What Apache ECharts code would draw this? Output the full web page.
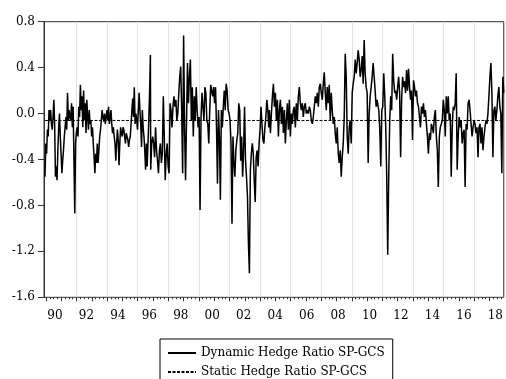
<!DOCTYPE html>
<html lang="en">
<head>
<meta charset="UTF-8">
<title>Hedge Ratio SP-GCS</title>
<script src="https://cdn.jsdelivr.net/npm/echarts@6/dist/echarts.min.js"></script>
<style>
html,body{margin:0;padding:0;background:#fff;}
#chart{width:506px;height:379px;}
</style>
</head>
<body>
<div id="chart"></div>
<script>
// dynamic hedge ratio in four stretches (start / end year of each)
var segFrom = [1988.935, 1995.85, 2003.612, 2010.766];
var segTo   = [1995.828, 2003.569, 2010.723, 2018.942];

var dyn1989 = [-0.55,-0.26,-0.35,-0.14,-0.20,0.03,-0.06,0.03,-0.09,-0.14,
	-0.03,0.12,-0.09,-0.55,-0.46,-0.58,-0.32,-0.12,0.00,-0.20,
	-0.35,-0.52,-0.41,-0.32,-0.20,-0.12,-0.03,-0.14,0.18,-0.06,
	0.03,-0.03,-0.06,0.09,-0.12,0.06,-0.41,-0.87,-0.26,-0.17,
	-0.12,-0.20,0.06,-0.03,0.25,0.03,0.15,-0.12,0.20,-0.06,
	0.09,-0.17,0.12,-0.03,-0.14,0.03,-0.09,-0.06,-0.20,-0.12,
	-0.26,-0.38,-0.52,-0.35,-0.43,-0.26,-0.43,-0.32,-0.20,-0.14,
	-0.06,0.03,-0.03,-0.07,0.00,-0.09,-0.03,0.03,-0.06,0.06,
	-0.09,-0.03,0.03,-0.09,-0.17,-0.12,-0.20,-0.26,-0.41,-0.26,
	-0.14,-0.23,-0.45,-0.26,-0.12,-0.17,-0.20,-0.12,-0.14,-0.20,
	-0.26,-0.17,-0.20,-0.23,-0.29,-0.23,-0.20,-0.09,0.03,0.13,
	-0.03,0.23,-0.09,0.00,-0.06,-0.14,0.03,0.18,0.03,-0.09,
	-0.29,0.03,-0.12,-0.20,-0.32,-0.49,-0.26,-0.46,-0.26,-0.06,
	0.18,0.51];
var dyn1996 = [-0.49,-0.26,-0.20,-0.26,-0.38,-0.12,-0.32,-0.41,-0.52,-0.32,
	-0.26,-0.43,-0.35,0.15,-0.20,-0.58,-0.35,-0.26,-0.46,-0.52,
	0.09,0.03,-0.12,0.06,0.15,0.06,0.12,-0.06,0.00,0.18,
	0.32,0.41,0.03,-0.52,0.68,-0.14,-0.58,-0.06,0.44,0.09,
	0.32,0.47,-0.06,0.23,-0.20,0.15,-0.06,0.23,0.03,-0.12,
	-0.03,-0.84,-0.03,0.18,0.06,-0.06,0.23,0.18,-0.06,-0.09,
	-0.26,0.03,0.25,0.20,0.15,0.23,0.09,0.23,-0.12,-0.61,
	0.03,-0.20,-0.75,0.03,-0.12,0.06,0.20,0.03,0.26,0.20,
	0.03,0.00,-0.06,-0.26,-0.96,-0.20,-0.43,-0.55,-0.32,-0.23,
	-0.17,0.09,0.03,-0.41,-0.20,-0.55,-0.32,0.06,-0.41,-0.55,
	-0.72,-1.13,-1.39,-0.49,-0.35,-0.26,-0.35,-0.58,-0.77,-0.38,
	-0.32,-0.46,-0.26,-0.14,0.06,-0.09,-0.23,-0.26,-0.12,-0.03,
	0.12,0.03,-0.12];
var dyn2003 = [0.03,-0.17,0.00,0.15,0.26,0.06,0.18,-0.06,0.12,-0.20,
	0.03,0.12,-0.09,0.06,-0.17,0.03,-0.26,-0.06,0.09,-0.14,
	0.12,-0.20,0.00,-0.09,0.03,0.06,-0.12,0.09,-0.06,0.15,
	0.23,0.09,0.03,0.09,-0.03,0.06,0.09,0.00,0.03,0.00,
	0.06,0.03,-0.06,-0.09,-0.03,0.06,0.15,0.09,0.18,0.06,
	0.23,0.26,0.18,0.12,0.26,0.36,0.18,0.03,0.23,0.09,
	0.25,-0.06,0.18,0.03,-0.09,-0.03,-0.17,-0.26,-0.12,-0.35,
	-0.43,-0.32,-0.55,-0.38,-0.26,-0.03,0.52,0.32,-0.20,-0.35,
	-0.12,-0.06,-0.26,0.18,0.26,0.32,0.47,0.35,0.44,0.55,
	0.47,0.32,0.38,0.50,0.26,0.64,0.35,0.23,0.18,-0.43,
	0.00,0.15,0.23,0.32,0.44,0.32,0.20,0.06,0.12,0.06];
var dyn2010 = [0.03,-0.14,-0.46,0.03,0.06,0.35,0.15,-0.12,-0.55,-1.23,
	-0.55,-0.06,0.15,0.03,0.52,0.29,0.18,0.20,0.12,0.23,
	0.32,0.18,-0.38,0.12,0.32,0.23,0.28,0.18,0.38,0.20,
	0.39,0.23,0.12,0.20,-0.23,0.29,0.23,0.15,0.20,0.09,
	0.06,-0.03,-0.12,0.06,0.00,0.09,-0.03,0.03,-0.09,-0.20,
	-0.35,-0.17,-0.23,-0.09,-0.12,-0.17,-0.03,0.03,-0.20,-0.32,
	-0.64,-0.20,-0.12,-0.09,-0.06,0.12,0.03,-0.20,0.15,0.00,
	0.15,-0.06,0.00,-0.55,-0.12,0.06,0.03,0.09,0.35,-0.49,
	-0.20,-0.03,-0.12,-0.06,-0.26,-0.17,-0.14,-0.64,-0.09,-0.14,
	0.09,0.12,0.03,-0.09,-0.20,-0.12,-0.06,-0.09,-0.17,-0.12,
	-0.38,-0.12,-0.09,-0.26,-0.12,-0.32,-0.20,-0.12,-0.06,-0.09,
	0.00,0.15,0.32,0.44,0.18,-0.38,0.03,0.06,-0.06,0.03,
	0.15,0.23,0.06,0.00,-0.52,0.32,0.18];
var segVals = [dyn1989, dyn1996, dyn2003, dyn2010];

var staticRatio = -0.06;
var yearLabels = [1990,1992,1994,1996,1998,2000,2002,2004,2006,2008,2010,2012,2014,2016,2018];
var gridYears = [1991,1993,1995,1997,1999,2001,2003,2005,2007,2009,2011,2013,2015,2017];

var xMin = 1988.87, xMax = 2018.94;     // data axis
var labMin = 1989.302, labMax = 2018.535; // year labels sit a little off the grid, as in the picture
var serif = 'DejaVu Serif';

// build [year, value] pairs from the stretches
function buildDynamic(){
	var out = [];
	for (var s = 0; s < segVals.length; s++){
		var v = segVals[s], a = segFrom[s], b = segTo[s];
		for (var i = 0; i < v.length; i++){
			out.push([a + (b - a) * i / (v.length - 1), v[i]]);
		}
	}
	return out;
}

var quarters = [], years = [];
for (var y = 1989; y <= 2018; y++){
	years.push(y);
	for (var q = 0; q < 4; q++) quarters.push(y + q / 4);
}

var myChart = echarts.init(document.getElementById('chart'));
var option = {
	backgroundColor: '#fff',
	animation: false,
	grid: {
		left: 44, right: 1, top: 21.7, bottom: 81.7,
		show: true, borderColor: '#333', borderWidth: 1
	},
	legend: {
		orient: 'vertical',
		left: 160, top: 339, height: 60,
		padding: [8, 8, 6, 7],
		itemWidth: 28, itemHeight: 12, itemGap: 7, itemTextGap: 5,
		borderColor: '#000', borderWidth: 1,
		itemStyle: {opacity: 0},
		textStyle: {fontFamily: serif, fontSize: 12, color: '#000'},
		data: ['Dynamic Hedge Ratio SP-GCS', 'Static Hedge Ratio SP-GCS']
	},
	xAxis: [
		{	// quarterly ticks
			type: 'value', min: xMin, max: xMax, position: 'bottom',
			axisLine: {show: false, onZero: false},
			axisTick: {show: true, length: 2, customValues: quarters, lineStyle: {color: '#333'}},
			axisLabel: {show: false}, splitLine: {show: false}
		},
		{	// yearly ticks
			type: 'value', min: xMin, max: xMax, position: 'bottom',
			axisLine: {show: false, onZero: false},
			axisTick: {show: true, length: 4, customValues: years, lineStyle: {color: '#333'}},
			axisLabel: {show: false}, splitLine: {show: false}
		},
		{	// light vertical grid
			type: 'value', min: xMin, max: xMax, position: 'bottom',
			axisLine: {show: false, onZero: false},
			axisTick: {show: false, customValues: gridYears},
			axisLabel: {show: false},
			splitLine: {show: true, lineStyle: {color: '#e2e2e2', width: 1}}
		},
		{	// year labels
			type: 'value', min: labMin, max: labMax, position: 'bottom',
			axisLine: {show: false, onZero: false}, axisTick: {show: false}, splitLine: {show: false},
			axisLabel: {
				customValues: yearLabels, margin: 13,
				fontFamily: serif, fontSize: 12, color: '#000',
				formatter: function(v){ var s = String(Math.round(v) % 100); return s.length < 2 ? '0' + s : s; }
			}
		}
	],
	yAxis: {
		type: 'value', min: -1.6, max: 0.8, interval: 0.4,
		axisLine: {show: true, onZero: false, lineStyle: {color: '#333'}},
		axisTick: {show: true, length: 6, lineStyle: {color: '#333'}},
		axisLabel: {
			margin: 9, fontFamily: serif, fontSize: 12, color: '#000',
			formatter: function(v){ return v.toFixed(1); }
		},
		splitLine: {show: false}
	},
	series: [
		{
			name: 'Dynamic Hedge Ratio SP-GCS',
			type: 'line', xAxisIndex: 0,
			symbol: 'none', showSymbol: false,
			lineStyle: {color: '#000', width: 1.5},
			itemStyle: {color: '#000'},
			data: buildDynamic()
		},
		{
			name: 'Static Hedge Ratio SP-GCS',
			type: 'line', xAxisIndex: 0,
			symbol: 'none', showSymbol: false,
			lineStyle: {color: '#000', width: 1, type: [3, 1.5]},
			itemStyle: {color: '#000'},
			data: [[segFrom[0], staticRatio], [segTo[3], staticRatio]]
		}
	]
};
myChart.setOption(option);
</script>
</body>
</html>
